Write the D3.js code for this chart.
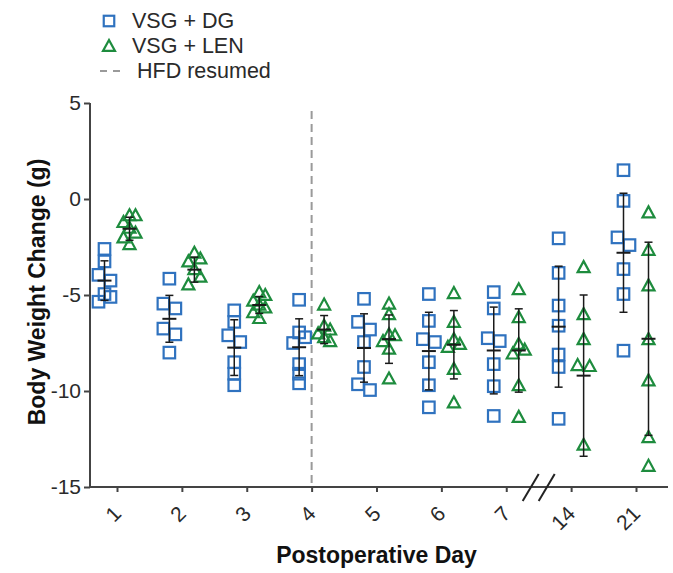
<!DOCTYPE html>
<html>
<head>
<meta charset="utf-8">
<script src="https://cdn.jsdelivr.net/npm/d3@7/dist/d3.min.js"></script>
<style>
  html, body { margin: 0; padding: 0; background: #fff; }
  svg { display: block; font-family: "Liberation Sans", Arial, Helvetica, sans-serif; }
</style>
</head>
<body>
<svg id="chart" width="673" height="573"></svg>
<script>
// ---------------- data ----------------
const days = ["1", "2", "3", "4", "5", "6", "7", "14", "21"];
const yTicks = [5, 0, -5, -10, -15];
const seriesNames = ["VSG + DG", "VSG + LEN"];
const hfdLabel = "HFD resumed";
const hfdDay = "4";
const breakAfterDay = "7";

const dgValues = [
  [-2.6, -3.25, -3.95, -4.25, -4.95, -5.1, -5.35],
  [-4.15, -5.45, -5.7, -6.75, -7.05, -8.0],
  [-5.8, -6.4, -7.1, -7.45, -8.5, -9.1, -9.7],
  [-5.25, -6.95, -7.2, -7.5, -8.6, -9.1, -9.6],
  [-5.2, -6.4, -6.8, -7.45, -8.75, -9.65, -9.95],
  [-4.95, -6.35, -7.3, -7.45, -8.5, -9.7, -10.85],
  [-4.85, -5.7, -7.25, -7.4, -8.6, -9.75, -11.3],
  [-2.05, -3.85, -5.55, -6.6, -8.1, -8.75, -11.45],
  [1.5, -0.1, -2.0, -2.4, -3.65, -4.95, -7.9]
];
const dgMean = [-4.25, -6.24, -7.74, -7.72, -7.76, -7.92, -7.89, -6.65, -2.8];
const dgSD   = [1.03, 1.22, 1.45, 1.48, 1.78, 2.02, 2.26, 3.15, 3.1];

const lenValues = [
  [-0.85, -0.85, -1.2, -1.5, -1.75, -2.0, -2.35],
  [-2.8, -3.1, -3.25, -3.65, -4.05, -4.45],
  [-4.85, -5.0, -5.3, -5.5, -5.65, -5.9, -6.2],
  [-5.5, -6.6, -6.8, -7.0, -7.2, -7.4],
  [-5.45, -6.0, -7.1, -7.05, -7.4, -7.8, -9.35],
  [-4.9, -6.4, -7.3, -7.55, -7.7, -8.85, -10.6],
  [-4.7, -6.15, -7.55, -7.85, -8.05, -9.7, -11.35],
  [-3.55, -6.0, -7.3, -8.65, -8.7, -12.8],
  [-0.7, -2.65, -4.5, -7.3, -9.45, -12.4, -13.9]
];
const lenMean = [-1.55, -3.68, -5.52, -6.8, -7.3, -7.59, -7.89, -9.2, -7.28];
const lenSD   = [0.6, 0.65, 0.44, 0.73, 1.26, 1.78, 2.17, 4.2, 5.03];

// ---------------- drawing ----------------
const svg = d3.select("#chart");
const blue = "#2f72bf";
const green = "#1e8c3e";
const axisColor = "#444";
const textColor = "#2a2a2a";

const x = d3.scalePoint().domain(days).range([117, 636]);
const y = d3.scaleLinear().domain([-15, 5]).range([487, 103]);
const groupOffset = 12.5;

// y axis
const yAxis = d3.axisLeft(y).tickValues(yTicks).tickSize(6).tickPadding(3).tickFormat(d => String(d));
const gy = svg.append("g").attr("transform", "translate(90,0)").call(yAxis);
gy.select(".domain").attr("stroke", axisColor).attr("stroke-width", 2).attr("d", `M0,${y(5)}V${y(-15)+1}`);
gy.selectAll(".tick line").attr("stroke", axisColor).attr("stroke-width", 2);
gy.selectAll(".tick text").attr("font-size", 21).attr("fill", textColor)
  .attr("font-family", "Liberation Sans, Arial, sans-serif");

// x axis
const xAxis = d3.axisBottom(x).tickSize(5).tickFormat(d => d);
const gx = svg.append("g").attr("transform", `translate(0,${y(-15)})`).call(xAxis);
gx.select(".domain").attr("stroke", axisColor).attr("stroke-width", 2).attr("d", "M89,0H668");
gx.selectAll(".tick line").attr("stroke", axisColor).attr("stroke-width", 2);
gx.selectAll(".tick text")
  .attr("font-size", 21).attr("fill", textColor)
  .attr("font-family", "Liberation Sans, Arial, sans-serif")
  .attr("text-anchor", "end")
  .attr("dy", null).attr("y", null)
  .attr("transform", "translate(5,28) rotate(-45)");

// axis break marks "//"
const bx = (x(breakAfterDay) + x(days[days.indexOf(breakAfterDay) + 1])) / 2;
const by = y(-15);
[-8, 8].forEach(o => {
  svg.append("line")
    .attr("x1", bx + o - 8).attr("y1", by + 14)
    .attr("x2", bx + o + 8).attr("y2", by - 13)
    .attr("stroke", "#222").attr("stroke-width", 2);
});

// HFD resumed dashed line
svg.append("line")
  .attr("x1", x(hfdDay)).attr("x2", x(hfdDay))
  .attr("y1", 111).attr("y2", y(-15))
  .attr("stroke", "#9a9a9a").attr("stroke-width", 2)
  .attr("stroke-dasharray", "8,5");

// titles
svg.append("text")
  .attr("transform", `translate(45,${(y(5) + y(-15)) / 2 - 3}) rotate(-90)`)
  .attr("text-anchor", "middle").attr("font-weight", "bold").attr("font-size", 23).attr("fill", "#111")
  .text("Body Weight Change (g)");
svg.append("text")
  .attr("x", (x(days[0]) + x(days[days.length - 1])) / 2).attr("y", 563)
  .attr("text-anchor", "middle").attr("font-weight", "bold").attr("font-size", 23).attr("fill", "#111")
  .text("Postoperative Day");

// jitter: spread vertically-close points symmetrically
function jitter(vals) {
  const pts = vals.map((v, i) => ({ v, py: y(v), i })).sort((a, b) => a.py - b.py);
  const clusters = [];
  pts.forEach(p => {
    const last = clusters[clusters.length - 1];
    if (last && p.py - last[last.length - 1].py < 9) last.push(p);
    else clusters.push([p]);
  });
  clusters.forEach(c => {
    if (c.length === 1) c[0].dx = 0;
    else if (c.length === 2) { c[0].dx = -6; c[1].dx = 6; }
    else c.forEach((p, k) => { p.dx = [0, 6, -6][k % 3]; });
  });
  return pts;
}

const squareSize = 11.5;
function drawSquare(g, cx, cy, s) {
  s = s || squareSize;
  g.append("rect")
    .attr("x", cx - s / 2).attr("y", cy - s / 2)
    .attr("width", s).attr("height", s)
    .attr("fill", "none").attr("stroke", blue).attr("stroke-width", 2.2);
}
function drawTriangle(g, cx, cy) {
  const w = 12, h = 11;
  g.append("path")
    .attr("d", `M${cx},${cy - h * 0.55}L${cx + w / 2},${cy + h * 0.45}L${cx - w / 2},${cy + h * 0.45}Z`)
    .attr("fill", "none").attr("stroke", green).attr("stroke-width", 2.2).attr("stroke-linejoin", "miter");
}

function drawErrorBar(g, cx, mean, sd) {
  const col = "#1a1a1a";
  g.append("line").attr("x1", cx).attr("x2", cx).attr("y1", y(mean + sd)).attr("y2", y(mean - sd))
    .attr("stroke", col).attr("stroke-width", 1.5);
  [mean + sd, mean - sd].forEach(v => {
    g.append("line").attr("x1", cx - 4).attr("x2", cx + 4).attr("y1", y(v)).attr("y2", y(v))
      .attr("stroke", col).attr("stroke-width", 1.5);
  });
  g.append("line").attr("x1", cx - 7).attr("x2", cx + 7).attr("y1", y(mean)).attr("y2", y(mean))
    .attr("stroke", col).attr("stroke-width", 2);
}

const plot = svg.append("g");
days.forEach((d, i) => {
  const cxDG = x(d) - groupOffset;
  const cxLEN = x(d) + groupOffset;
  const gDG = plot.append("g");
  jitter(dgValues[i]).forEach(p => drawSquare(gDG, cxDG + p.dx, p.py));
  drawErrorBar(gDG, cxDG, dgMean[i], dgSD[i]);
  const gLEN = plot.append("g");
  jitter(lenValues[i]).forEach(p => drawTriangle(gLEN, cxLEN + p.dx, p.py));
  drawErrorBar(gLEN, cxLEN, lenMean[i], lenSD[i]);
});

// legend
const legend = svg.append("g");
const lg = [
  { label: seriesNames[0], y: 21, type: "square" },
  { label: seriesNames[1], y: 46, type: "triangle" },
  { label: hfdLabel, y: 71, type: "dash" }
];
lg.forEach(item => {
  if (item.type === "square") drawSquare(legend, 109, item.y, 10.5);
  else if (item.type === "triangle") drawTriangle(legend, 109, item.y);
  else {
    legend.append("line").attr("x1", 100).attr("x2", 122).attr("y1", item.y).attr("y2", item.y)
      .attr("stroke", "#9a9a9a").attr("stroke-width", 2).attr("stroke-dasharray", "7,6");
  }
  legend.append("text")
    .attr("x", item.type === "dash" ? 137 : 132).attr("y", item.y)
    .attr("dominant-baseline", "central")
    .attr("font-size", 21.5).attr("fill", textColor)
    .text(item.label);
});
</script>
</body>
</html>
